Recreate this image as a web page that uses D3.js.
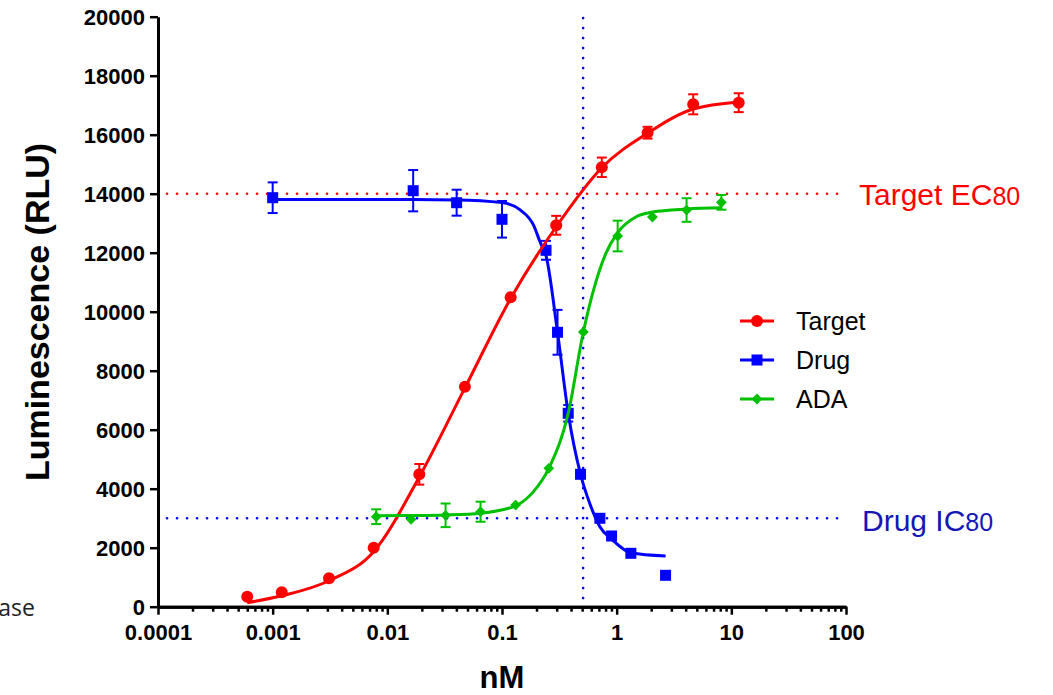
<!DOCTYPE html>
<html>
<head>
<meta charset="utf-8">
<script src="https://cdn.jsdelivr.net/npm/d3@7"></script>
<style>
  body { margin: 0; background: #fff; }
  text { font-family: "Liberation Sans", Arial, sans-serif; }
</style>
</head>
<body>
<div id="chart"></div>
<script>
// data (nM, RLU)
const targetX   = [0.0006, 0.0012, 0.0031, 0.0076, 0.019, 0.0475, 0.119, 0.297, 0.742, 1.86, 4.65, 11.6];
const targetY   = [339, 488, 963, 2000, 4488, 7458, 10488, 12929, 14895, 16068, 17030, 17085];
const targetErr = [0, 0, 0, 0, 350, 0, 0, 320, 330, 200, 340, 320];
const targetFitY = [135, 370, 880, 1864, 4400, 7420, 10450, 12880, 14880, 16050, 16870, 17100];

const drugX   = [0.001, 0.0168, 0.0402, 0.1, 0.242, 0.305, 0.378, 0.484, 0.714, 0.903, 1.33, 2.67];
const drugY   = [13864, 14102, 13695, 13132, 12081, 9302, 6556, 4488, 2997, 2397, 1810, 1064];
const drugErr = [520, 700, 440, 620, 320, 760, 280, 0, 0, 0, 0, 0];
const drugFitX = [0.001, 0.0168, 0.0402, 0.1, 0.144, 0.188, 0.2156, 0.242, 0.305, 0.378, 0.484, 0.589, 0.714, 0.903, 1.33, 2.67];
const drugFitY = [13800, 13800, 13790, 13700, 13450, 12940, 12350, 11900, 9300, 6560, 4490, 3450, 2710, 2290, 1830, 1720];

const adaX   = [0.008, 0.0161, 0.0322, 0.065, 0.1315, 0.256, 0.512, 1.02, 2.05, 4.07, 8.19];
const adaY   = [3051, 2963, 3098, 3220, 3447, 4692, 9312, 12566, 13210, 13447, 13708];
const adaErr = [250, 0, 400, 340, 0, 0, 0, 520, 0, 400, 250];
const adaFitX = [0.008, 0.0161, 0.0322, 0.065, 0.1315, 0.188, 0.256, 0.378, 0.512, 0.63, 0.8, 1.02, 1.48, 2.05, 4.07, 8.19];
const adaFitY = [3080, 3090, 3110, 3170, 3420, 3900, 4690, 6560, 9310, 10750, 11950, 12680, 13220, 13380, 13480, 13520];

const yTicks = [0, 2000, 4000, 6000, 8000, 10000, 12000, 14000, 16000, 18000, 20000];
const xTicks = [0.0001, 0.001, 0.01, 0.1, 1, 10, 100];
const xTickLabels = ["0.0001", "0.001", "0.01", "0.1", "1", "10", "100"];

const ec80 = 14000, ic80 = 3000, xMark = 0.51;

const width = 1053, height = 695;

const svg = d3.select("#chart")
    .append("svg")
    .attr("width", width)
    .attr("height", height);

const x = d3.scaleLog().domain([0.0001, 100]).range([158, 846]);
const y = d3.scaleLinear().domain([0, 20000]).range([606.7, 16.7]);

// reference lines
function dotted(x1, y1, x2, y2, color) {
  svg.append("line")
    .attr("x1", x1).attr("y1", y1).attr("x2", x2).attr("y2", y2)
    .attr("stroke", color)
    .attr("stroke-width", 2.6)
    .attr("stroke-linecap", "round")
    .attr("stroke-dasharray", "0.1 9.9");
}
dotted(167, y(ec80), 842, y(ec80), "#ff0000");
dotted(167, y(ic80), 842, y(ic80), "#0000ff");
dotted(x(xMark), 18, x(xMark), 600, "#0000ff");

svg.append("text").attr("x", 859).attr("y", 205)
    .attr("fill", "#ff0000").style("font-size", "30px")
    .text("Target EC")
    .append("tspan").style("font-size", "25px").text("80");
svg.append("text").attr("x", 862).attr("y", 531)
    .attr("fill", "#1515b8").style("font-size", "30px")
    .text("Drug IC")
    .append("tspan").style("font-size", "25px").text("80");

// axes
const yAxis = svg.append("g")
    .attr("transform", `translate(${x.range()[0]},0)`)
    .call(d3.axisLeft(y).tickValues(yTicks).tickSize(8).tickSizeOuter(0).tickPadding(5).tickFormat(d3.format("d")));

const minor = [];
xTicks.slice(0, -1).forEach(d => { for (let k = 2; k <= 9; k++) minor.push(d * k); });
svg.append("g")
    .attr("transform", `translate(0,${y(0)})`)
    .call(d3.axisBottom(x).tickValues(minor).tickSize(5).tickSizeOuter(0).tickFormat(""));
const xAxis = svg.append("g")
    .attr("transform", `translate(0,${y(0)})`)
    .call(d3.axisBottom(x).tickValues(xTicks).tickSize(8).tickSizeOuter(0).tickPadding(10)
        .tickFormat((d, i) => xTickLabels[i]));

svg.selectAll(".domain").attr("stroke", "#000").attr("stroke-width", 3);
svg.selectAll(".tick line").attr("stroke", "#000").attr("stroke-width", 2.5);
svg.selectAll(".tick text")
    .style("font-family", "'Liberation Sans', Arial, sans-serif")
    .style("font-size", "22px").style("font-weight", "bold").attr("fill", "#000");
yAxis.selectAll(".tick text").attr("dy", "0.36em");

svg.append("text")
    .attr("transform", "translate(49,312) rotate(-90)")
    .attr("text-anchor", "middle")
    .style("font-size", "34px").style("font-weight", "bold")
    .text("Luminescence (RLU)");
svg.append("text")
    .attr("x", 502).attr("y", 688)
    .attr("text-anchor", "middle")
    .style("font-size", "31px").style("font-weight", "bold")
    .text("nM");

svg.append("text")
    .attr("x", 35).attr("y", 616)
    .attr("text-anchor", "end")
    .style("font-family", "'Open Sans', sans-serif")
    .style("font-size", "23px").attr("fill", "#222")
    .text("ase");

// series
const series = [
  {name: "Drug", color: "#0000ff", xs: drugX, ys: drugY, err: drugErr, fx: drugFitX, fy: drugFitY, shape: "square"},
  {name: "Target", color: "#ff0000", xs: targetX, ys: targetY, err: targetErr, fx: targetX, fy: targetFitY, shape: "circle"},
  {name: "ADA", color: "#00c000", xs: adaX, ys: adaY, err: adaErr, fx: adaFitX, fy: adaFitY, shape: "diamond"}
];

const line = d3.line()
    .x(d => x(d[0]))
    .y(d => y(d[1]))
    .curve(d3.curveMonotoneX);

function marker(g, shape, color) {
  if (shape === "circle") {
    g.append("circle").attr("r", 6).attr("fill", color);
  } else if (shape === "square") {
    g.append("rect").attr("x", -5.5).attr("y", -5.5).attr("width", 11).attr("height", 11).attr("fill", color);
  } else {
    g.append("path").attr("d", d3.symbol(d3.symbolSquare, 58)()).attr("transform", "rotate(45)").attr("fill", color);
  }
}

series.forEach(s => {
  const g = svg.append("g");
  g.append("path")
    .datum(s.fx.map((v, i) => [v, s.fy[i]]))
    .attr("fill", "none")
    .attr("stroke", s.color)
    .attr("stroke-width", 3)
    .attr("d", line);

  const pts = s.xs.map((v, i) => ({x: v, y: s.ys[i], e: s.err[i]}));
  const eb = g.append("g").selectAll("g")
    .data(pts.filter(d => d.e > 0))
    .join("g")
    .attr("stroke", s.color)
    .attr("stroke-width", 2);
  eb.append("line")
    .attr("x1", d => x(d.x)).attr("x2", d => x(d.x))
    .attr("y1", d => y(d.y - d.e)).attr("y2", d => y(d.y + d.e));
  eb.append("line")
    .attr("x1", d => x(d.x) - 5).attr("x2", d => x(d.x) + 5)
    .attr("y1", d => y(d.y + d.e)).attr("y2", d => y(d.y + d.e));
  eb.append("line")
    .attr("x1", d => x(d.x) - 5).attr("x2", d => x(d.x) + 5)
    .attr("y1", d => y(d.y - d.e)).attr("y2", d => y(d.y - d.e));

  g.append("g").selectAll("g")
    .data(pts)
    .join("g")
    .attr("transform", d => `translate(${x(d.x)},${y(d.y)})`)
    .each(function() { marker(d3.select(this), s.shape, s.color); });
});

// legend
const legendItems = [
  {name: "Target", color: "#ff0000", shape: "circle"},
  {name: "Drug", color: "#0000ff", shape: "square"},
  {name: "ADA", color: "#00c000", shape: "diamond"}
];
legendItems.forEach((d, i) => {
  const ly = 321 + i * 39;
  svg.append("line").attr("x1", 740).attr("x2", 774).attr("y1", ly).attr("y2", ly)
    .attr("stroke", d.color).attr("stroke-width", 3);
  marker(svg.append("g").attr("transform", `translate(757,${ly})`), d.shape, d.color);
  svg.append("text").attr("x", 796).attr("y", ly).attr("dy", "0.36em")
    .style("font-size", "25px").attr("fill", "#000").text(d.name);
});
</script>
</body>
</html>
